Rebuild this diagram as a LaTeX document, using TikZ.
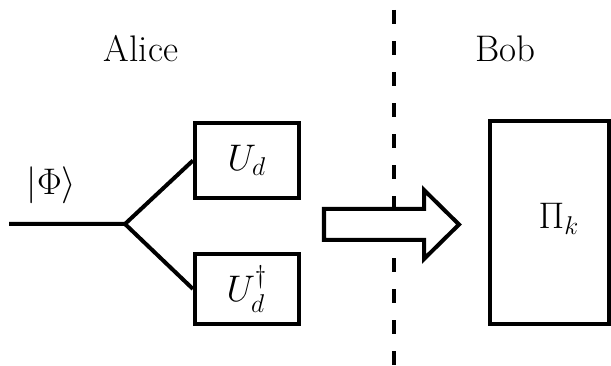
\documentclass[tikz,border=0pt]{standalone}
\usepackage{amsmath, amssymb}
\usepackage{tikz}
\usetikzlibrary{
  positioning,
  arrows.meta
}
\tikzset{
    every node/.style={font=\fontsize{17.28}{21}\selectfont},
    gate/.style={draw, line width=1.87pt, rectangle, inner sep=0pt},
    wire/.style={line width=1.87pt},
}

\begin{document}
\begin{tikzpicture}[x=0.467pt, y=-0.467pt]
            \useasboundingbox (0,0) rectangle (611,366);
            % the two sides
            \node (alice) at (141,49) {Alice};
            \node (bob) at (505.5,49) {Bob};
            % Alice's branch
            \coordinate (input) at (9,224);
            \coordinate (split) at (125,224);
            \node[gate, minimum width=48.6pt, minimum height=35pt] (ud) at (247,160.5) {$U_d$};
            \node[gate, minimum width=48.6pt, minimum height=32.7pt] (udag) at (247,289) {$U_d^{\dagger}$};
            \node (phi) at (51.5,185) {$|\Phi\rangle$};
            \draw[wire] (input) -- (split) -- (ud.west);
            \draw[wire] (split) -- (udag.west);
            % dividing line
            \coordinate (cuttop) at (394,10);
            \coordinate (cutbot) at (394,366);
            \draw[wire, dash pattern=on 6.54pt off 7.94pt] (cuttop) -- (cutbot);
            % sent over to Bob
            \draw[wire, fill=white, line join=miter] (324,209) -- (424,209) -- (424,190) -- (459,224.5)
                -- (424,259) -- (424,240) -- (324,240) -- cycle;
            % Bob's measurement
            \node[gate, minimum width=56pt, minimum height=94.8pt] (meas) at (549.5,223) {};
            \node (pik) at ([xshift=4.44pt, yshift=1.87pt]meas.center) {$\Pi_k$};
        \end{tikzpicture}
\end{document}
